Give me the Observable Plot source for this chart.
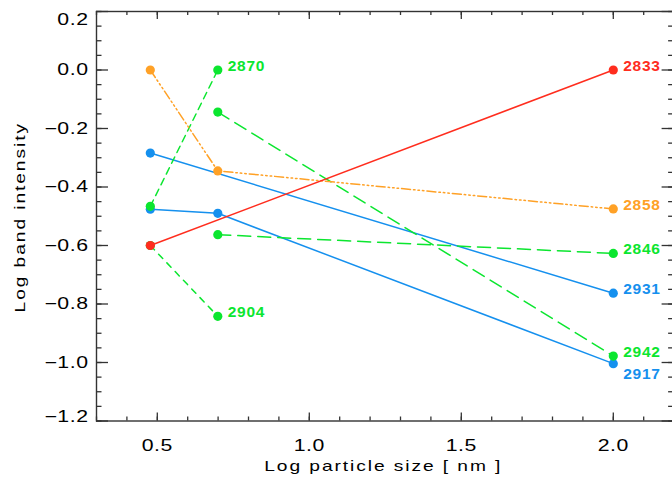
<!DOCTYPE html>
<html>
<head>
<meta charset="utf-8">
<script src="https://cdn.jsdelivr.net/npm/d3@7"></script>
<script src="https://cdn.jsdelivr.net/npm/@observablehq/plot@0.6"></script>
<style>
  html, body { margin: 0; padding: 0; background: #fff; overflow: hidden; }
</style>
</head>
<body>
<div id="chart"></div>
<script>
// Log particle size [nm] at which bands were measured
const sizeLog = [0.477, 0.699, 2.0];

// Log band intensity per band (null = not measured)
const band2917 = [-0.476, -0.490, -1.004];
const band2931 = [-0.284, null, -0.763];
const band2942 = [null, -0.144, -0.978];
const band2846 = [null, -0.563, -0.627];
const band2904 = [-0.600, -0.842, null];
const band2870 = [-0.466, 0.000, null];
const band2858 = [0.000, -0.345, -0.475];
const band2833 = [-0.600, null, 0.000];

const bandNames = ["2917", "2931", "2942", "2846", "2904", "2870", "2858", "2833"];
const bandValues = [band2917, band2931, band2942, band2846, band2904, band2870, band2858, band2833];

// tick values
const xMajor = [0.5, 1.0, 1.5, 2.0];
const yMajor = [-1.2, -1.0, -0.8, -0.6, -0.4, -0.2, 0.0, 0.2];

// axis titles
const xTitle = "Log particle size [ nm ]";
const yTitle = "Log band intensity";

// styles
const bandColor = {
  "2917": "#1590ee", "2931": "#1590ee",
  "2942": "#0be62f", "2846": "#0be62f", "2904": "#0be62f", "2870": "#0be62f",
  "2858": "#ffa126", "2833": "#ff2d1e"
};
const bandDash = {
  "2917": null, "2931": null, "2833": null,
  "2942": "13,7", "2846": "13,7",
  "2904": "6,6", "2870": "7,5",
  "2858": "9,3,1.5,3,1.5,3,1.5,3"
};
const labelDy = { "2917": 10 };
const yLabelShift = { "0.2": 8.5, "-1.2": -4.5 };

const W = 672, H = 477;
const mL = 96, mR = -1.6, mT = 11, mB = 56.5;
const frameW = W - mL - mR, frameH = H - mT - mB;

const yMinor = d3.range(-1.2, 0.2001, 0.05).map(v => +v.toFixed(2));
const xMinor = d3.range(0.3, 2.2001, 0.1).map(v => +v.toFixed(2));
const fmtY = d => (d < 0 ? "\u2212" : "") + Math.abs(d).toFixed(1);
const fmtX = d => d.toFixed(1);
const tickColor = "#333";

const marks = [];

bandNames.forEach((name, k) => {
  const pts = sizeLog.map((x, i) => ({x, y: bandValues[k][i], name}))
    .filter(d => d.y !== null);
  const col = bandColor[name];
  const lineOpts = {x: "x", y: "y", stroke: col, strokeWidth: 1.5};
  if (bandDash[name]) lineOpts.strokeDasharray = bandDash[name];
  marks.push(Plot.line(pts, lineOpts));
  marks.push(Plot.dot(pts, {x: "x", y: "y", r: 4.6, fill: col, stroke: "none"}));
  marks.push(Plot.text([pts[pts.length - 1]], {
    x: "x", y: "y", text: "name", dx: 10, dy: (labelDy[name] ?? -4),
    textAnchor: "start", lineAnchor: "middle", fill: col,
    fontSize: 15.5, fontWeight: "bold"
  }));
});

// inward ticks on all four sides
marks.push(
  Plot.ruleY(yMajor, {y: d => d, insetRight: frameW - 12, stroke: tickColor, strokeWidth: 1.3}),
  Plot.ruleY(yMinor, {y: d => d, insetRight: frameW - 5.5, stroke: tickColor, strokeWidth: 1.3}),
  Plot.ruleY(yMajor, {y: d => d, insetLeft: frameW - 12, stroke: tickColor, strokeWidth: 1.3}),
  Plot.ruleY(yMinor, {y: d => d, insetLeft: frameW - 5.5, stroke: tickColor, strokeWidth: 1.3}),
  Plot.ruleX(xMajor, {x: d => d, insetTop: frameH - 8, stroke: tickColor, strokeWidth: 1.3}),
  Plot.ruleX(xMinor, {x: d => d, insetTop: frameH - 4, stroke: tickColor, strokeWidth: 1.3}),
  Plot.ruleX(xMajor, {x: d => d, insetBottom: frameH - 8, stroke: tickColor, strokeWidth: 1.3}),
  Plot.ruleX(xMinor, {x: d => d, insetBottom: frameH - 4, stroke: tickColor, strokeWidth: 1.3}),
  Plot.frame({stroke: tickColor, strokeWidth: 1.4})
);

// tick labels (the end labels on y are nudged inward as in the reference)
const yScaleLin = v => mT + (0.2 - v) / 1.4 * frameH;
marks.push(
  Plot.text(yMajor, {x: () => 0.3, y: d => d, text: fmtY, textAnchor: "end",
    lineAnchor: "middle", dx: -8, dy: 0, fontSize: 16, fill: "#000"}),
  Plot.text(xMajor, {x: d => d, text: fmtX, frameAnchor: "bottom", textAnchor: "middle",
    lineAnchor: "middle", dx: 0, dy: 24.4, fontSize: 16, fill: "#000"})
);

// axis titles
marks.push(
  Plot.text([xTitle], {text: d => d, frameAnchor: "bottom", textAnchor: "middle", lineAnchor: "middle",
    dx: -2, dy: 45.4, fontSize: 15, fill: "#000"}),
  Plot.text([yTitle], {text: d => d, frameAnchor: "left", textAnchor: "middle", lineAnchor: "middle",
    rotate: -90, dx: -76.5, dy: 1, fontSize: 15, fill: "#000"})
);

const chart = Plot.plot({
  width: W, height: H,
  marginLeft: mL, marginRight: mR, marginTop: mT, marginBottom: mB,
  x: {domain: [0.3, 2.2], axis: null},
  y: {domain: [-1.2, 0.2], axis: null},
  style: {fontFamily: "'Liberation Sans', Arial, sans-serif", background: "#fff", overflow: "hidden"},
  marks
});
document.getElementById("chart").append(chart);

// IDL-style wide glyphs for axis text: stretch horizontally about the text anchor
const tickTexts = new Set([...yMajor.map(fmtY), ...xMajor.map(fmtX)]);
const titleTexts = new Set([xTitle, yTitle]);
const bands = new Set(bandNames);
const yLabelByText = new Map(yMajor.map(v => [fmtY(v), v]));
function stretch(t, s, extraDy) {
  const tr = t.getAttribute("transform");
  if (tr) {
    t.setAttribute("transform", (extraDy ? `translate(0,${extraDy}) ` : "") + tr + ` scale(${s},1)`);
  } else {
    const x = +(t.getAttribute("x") || 0);
    t.setAttribute("transform", `translate(${x * (1 - s)},${extraDy || 0}) scale(${s},1)`);
  }
}
chart.querySelectorAll("text").forEach(t => {
  const s = t.textContent;
  if (tickTexts.has(s)) {
    t.style.letterSpacing = "0.4px";
    let shift = 0;
    if (yLabelByText.has(s)) shift = yLabelShift[String(yLabelByText.get(s))] || 0;
    stretch(t, 1.33, shift);
  } else if (titleTexts.has(s)) {
    t.style.letterSpacing = "1.5px";
    stretch(t, 1.28, 0);
  } else if (bands.has(s)) {
    t.style.letterSpacing = "0.7px";
  }
});
</script>
</body>
</html>
